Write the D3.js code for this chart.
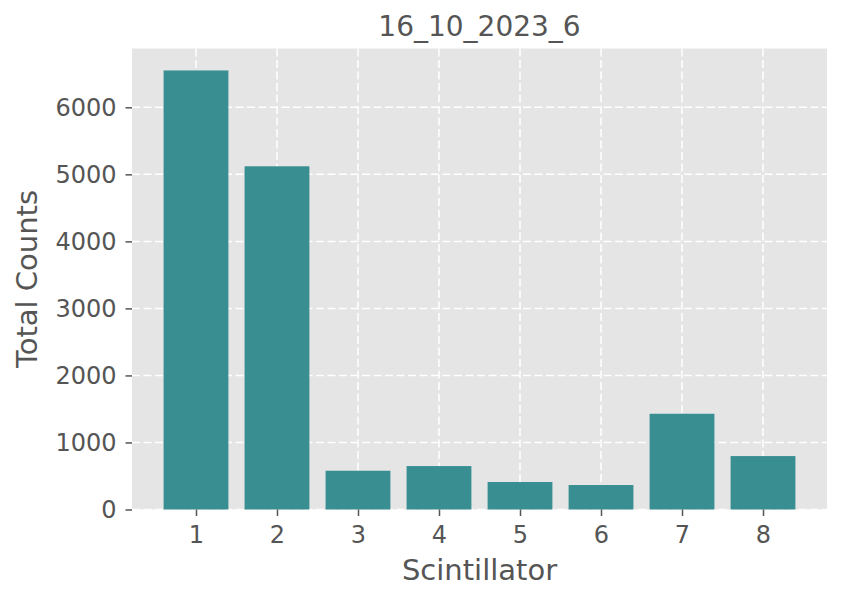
<!DOCTYPE html>
<html>
<head>
  <meta charset="utf-8">
  <title>16_10_2023_6</title>
  <script src="https://d3js.org/d3.v7.min.js"></script>
  <style>
    html, body {
      margin: 0;
      background: #fff;
    }
    svg text {
      font-family: 'DejaVu Sans', sans-serif;
      fill: #555555;
    }
  </style>
</head>
<body>
  <svg id="chart" width="843" height="601"></svg>
  <script>
  // values
  const scintillators = [1, 2, 3, 4, 5, 6, 7, 8];
  const totalCounts = [6550, 5120, 578, 648, 410, 365, 1428, 797];
  const yTicks = [0, 1000, 2000, 3000, 4000, 5000, 6000];
  const title = "16_10_2023_6";

  const svg = d3.select("#chart");
  const plotLeft = 132, plotRight = 827, plotTop = 48.5, plotBottom = 509.5;
  const barWidth = 0.8;

  // matplotlib style 5% margins
  const lo = 1 - barWidth / 2, hi = 8 + barWidth / 2;
  const pad = (hi - lo) * 0.05;
  const x = d3.scaleLinear().domain([lo - pad, hi + pad]).range([plotLeft, plotRight]);
  const y = d3.scaleLinear().domain([0, d3.max(totalCounts) * 1.05]).range([plotBottom, plotTop]);

  // background
  svg.append("rect")
    .attr("x", plotLeft).attr("y", plotTop)
    .attr("width", plotRight - plotLeft).attr("height", plotBottom - plotTop)
    .attr("fill", "#e5e5e5");

  // grid
  const grid = svg.append("g")
    .attr("stroke", "#ffffff")
    .attr("stroke-width", 1.5)
    .attr("stroke-dasharray", "8,3.5");
  grid.selectAll("line.h")
    .data(yTicks)
    .join("line")
    .attr("class", "h")
    .attr("x1", plotLeft).attr("x2", plotRight)
    .attr("y1", d => y(d)).attr("y2", d => y(d));
  grid.selectAll("line.v")
    .data(scintillators)
    .join("line")
    .attr("class", "v")
    .attr("y1", plotTop).attr("y2", plotBottom)
    .attr("x1", d => x(d)).attr("x2", d => x(d));

  // bars
  svg.append("g")
    .selectAll("rect")
    .data(totalCounts)
    .join("rect")
    .attr("x", (d, i) => x(scintillators[i] - barWidth / 2))
    .attr("width", (d, i) => x(scintillators[i] + barWidth / 2) - x(scintillators[i] - barWidth / 2))
    .attr("y", d => y(d))
    .attr("height", d => y(0) - y(d))
    .attr("fill", "#388e90");

  // axes
  const xAxis = svg.append("g")
    .attr("transform", `translate(0,${plotBottom})`)
    .call(d3.axisBottom(x).tickValues(scintillators).tickSize(6.5).tickPadding(10).tickFormat(d3.format("d")));
  const yAxis = svg.append("g")
    .attr("transform", `translate(${plotLeft},0)`)
    .call(d3.axisLeft(y).tickValues(yTicks).tickSize(6.5).tickPadding(9).tickFormat(d3.format("d")));

  [xAxis, yAxis].forEach(ax => {
    ax.select(".domain").remove();
    ax.selectAll(".tick line").attr("stroke", "#555555").attr("stroke-width", 1.5);
    ax.selectAll(".tick text").attr("font-size", "24px").attr("fill", "#555555");
  });

  // labels
  svg.append("text")
    .attr("x", (plotLeft + plotRight) / 2).attr("y", 36)
    .attr("text-anchor", "middle")
    .attr("font-size", "28px")
    .text(title);

  svg.append("text")
    .attr("x", (plotLeft + plotRight) / 2).attr("y", 580)
    .attr("text-anchor", "middle")
    .attr("font-size", "29px")
    .text("Scintillator");

  svg.append("text")
    .attr("transform", `translate(37,${(plotTop + plotBottom) / 2}) rotate(-90)`)
    .attr("text-anchor", "middle")
    .attr("font-size", "29px")
    .text("Total Counts");
  </script>
</body>
</html>
